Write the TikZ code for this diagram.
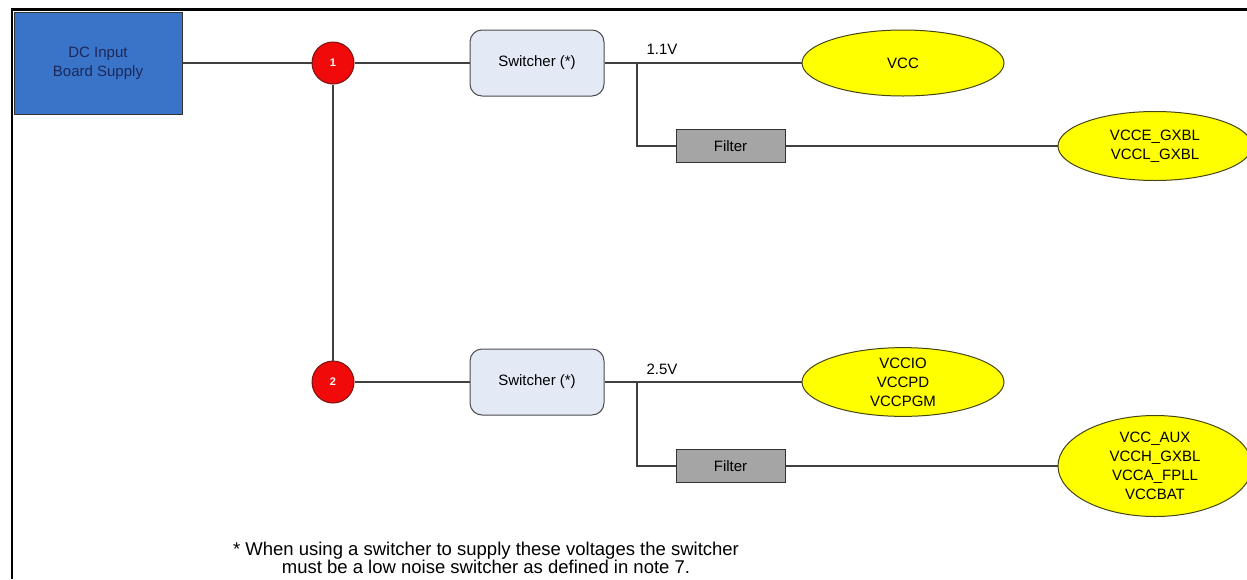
\documentclass[tikz,border=0pt]{standalone}
\usepackage{fontspec}
\setmainfont{Liberation Sans}
\usepackage{tikz}
\usetikzlibrary{shapes.geometric,positioning}

\definecolor{supplyblue}{RGB}{58,116,200}
\definecolor{supplytext}{RGB}{28,40,90}
\definecolor{railred}{RGB}{240,10,10}
\definecolor{railredline}{RGB}{120,20,20}
\definecolor{switchfill}{RGB}{227,233,245}
\definecolor{filtergray}{RGB}{165,165,165}
\definecolor{railyellow}{RGB}{255,255,0}
\definecolor{raildark}{RGB}{70,70,20}

\begin{document}
\begin{tikzpicture}[
    x=1pt, y=-1pt,
    font=\fontsize{15}{19}\selectfont,
    wire/.style={draw=black!75, line width=1.1pt},
    supply/.style={draw=black!80, line width=1pt, fill=supplyblue, text=supplytext, align=center, inner sep=0pt, minimum width=168pt, minimum height=102pt},
    railnum/.style={circle, draw=railredline, line width=1pt, fill=railred, text=white, inner sep=0pt, minimum size=42pt, font=\fontsize{11}{13}\selectfont\bfseries},
    switcher/.style={draw=black!70, line width=1pt, fill=switchfill, rounded corners=12pt, inner sep=0pt, minimum width=134pt, minimum height=66pt},
    filterbox/.style={draw=black!80, line width=1pt, fill=filtergray, inner sep=0pt, minimum width=109pt, minimum height=33pt},
    rail/.style={ellipse, draw=raildark, line width=1pt, fill=railyellow, align=center, inner sep=0pt}
]
\useasboundingbox (0,0) rectangle (1247,579);

% frame
\draw[line width=2.5pt] (12,579) -- (12,9.5) -- (1247,9.5);

% input and rails
\node[supply] (dcin) at (98,63) {DC Input\\Board Supply};
\node[railnum] (n1) at (333,63) {1};
\node[railnum] (n2) at (333,382) {2};

% switchers
\node[switcher] (sw1) at (537,63) {Switcher (*)};
\node[switcher] (sw2) at (537,382) {Switcher (*)};
\coordinate (tap1) at (637,63);
\coordinate (tap2) at (637,382);

% filters
\node[filterbox] (flt1) at (730.5,146) {Filter};
\node[filterbox] (flt2) at (730.5,466) {Filter};

% supplied rails
\node[rail, minimum width=202pt, minimum height=66pt] (vcc) at (903,63) {VCC};
\node[rail, minimum width=194pt, minimum height=69pt] (vccgxb) at (1155,146) {VCCE\_GXBL\\VCCL\_GXBL};
\node[rail, minimum width=202pt, minimum height=67pt] (vccio) at (903,382) {VCCIO\\VCCPD\\VCCPGM};
\node[rail, minimum width=194pt, minimum height=101pt] (vccaux) at (1155,466) {VCC\_AUX\\VCCH\_GXBL\\VCCA\_FPLL\\VCCBAT};

% wiring
\draw[wire] (dcin) -- (n1);
\draw[wire] (n1) -- (sw1);
\draw[wire] (n1) -- (n2);
\draw[wire] (n2) -- (sw2);
\draw[wire] (sw1) -- (vcc);
\draw[wire] (sw2) -- (vccio);
\draw[wire] (tap1) |- (flt1.west);
\draw[wire] (tap2) |- (flt2.west);
\draw[wire] (flt1) -- (vccgxb);
\draw[wire] (flt2) -- (vccaux);

% voltage labels
\node (v1) at (662,49) {1.1V};
\node (v2) at (662,369) {2.5V};

% note
\node[align=center, font=\fontsize{18.5}{18}\selectfont] (note) at (486,558) {* When using a switcher to supply these voltages the switcher\\must be a low noise switcher as defined in note 7.};

\end{tikzpicture}
\end{document}
